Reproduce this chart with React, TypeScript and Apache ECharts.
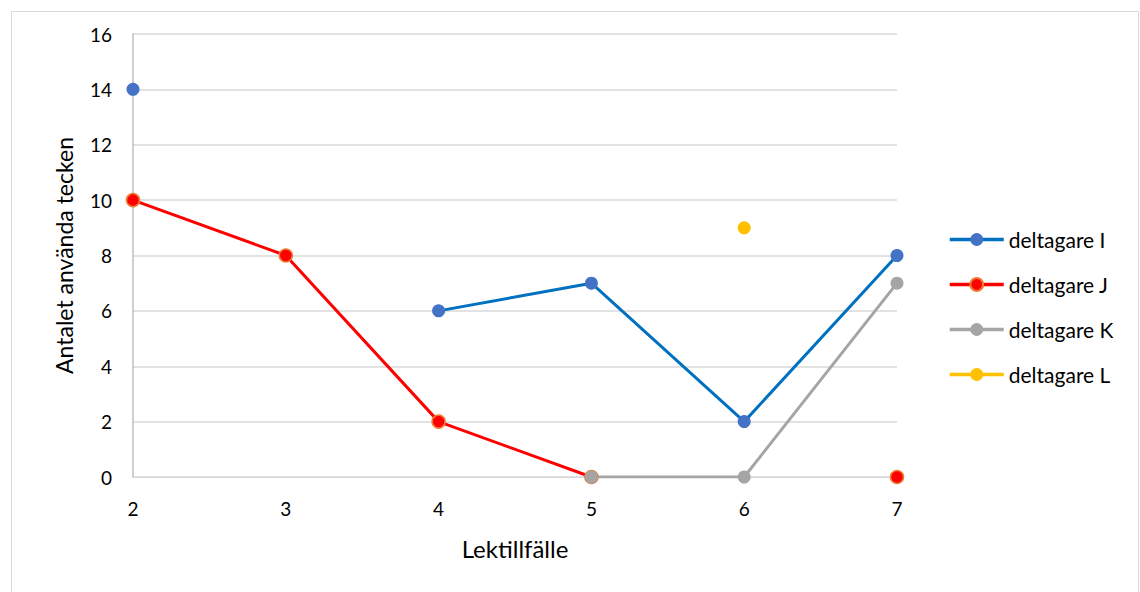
import React, { useEffect, useRef } from "react";
import * as echarts from "echarts";

const categories = ["2", "3", "4", "5", "6", "7"];
const seriesI = [14, null, 6, 7, 2, 8];
const seriesJ = [10, 8, 2, 0, null, 0];
const seriesK = [null, null, null, 0, 0, 7];
const seriesL = [null, null, null, null, 9, null];
const seriesNames = ["deltagare I", "deltagare J", "deltagare K", "deltagare L"];

const FONT = "Lato, 'Open Sans', sans-serif";

export default function App() {
  const ref = useRef<HTMLDivElement>(null);
  useEffect(() => {
    document.body.style.margin = "0";
    const chart = echarts.init(ref.current!, null, { renderer: "svg" });
    const mk = (name: string, data: any[], line: string, fill: string, border: string) => ({
      name,
      type: "line",
      data,
      symbol: "circle",
      symbolSize: 13,
      showSymbol: true,
      showAllSymbol: true,
      connectNulls: false,
      lineStyle: { color: line, width: 3 },
      itemStyle: { color: fill, borderColor: border, borderWidth: border === fill ? 0 : 1.5 },
      emphasis: { disabled: true },
    });
    chart.setOption({
      animation: false,
      textStyle: { fontFamily: FONT },
      graphic: [
        {
          type: "rect",
          shape: { x: 11.5, y: 11.5, width: 1127, height: 590 },
          style: { fill: "none", stroke: "#d9d9d9", lineWidth: 1 },
          silent: true,
        },
      ],
      grid: { left: 133, right: 243, top: 34, bottom: 115, containLabel: false },
      legend: {
        orient: "vertical",
        left: 943,
        top: 224,
        itemWidth: 54,
        itemHeight: 16,
        itemGap: 24,
        data: seriesNames,
        lineStyle: { width: 3.5 },
        textStyle: { fontSize: 21, color: "#000", fontFamily: FONT },
        selectedMode: false,
      },
      xAxis: {
        type: "category",
        data: categories,
        boundaryGap: false,
        name: "Lektillfälle",
        nameLocation: "middle",
        nameGap: 59,
        nameTextStyle: { fontSize: 24, color: "#000", fontFamily: FONT },
        axisLine: { show: true, lineStyle: { color: "#d9d9d9", width: 1 } },
        axisTick: { show: false },
        axisLabel: { fontSize: 19, color: "#000", margin: 22, fontFamily: FONT },
        splitLine: { show: false },
      },
      yAxis: {
        type: "value",
        min: 0,
        max: 16,
        interval: 2,
        name: "Antalet använda tecken",
        nameLocation: "middle",
        nameGap: 58,
        nameRotate: 90,
        nameTextStyle: { fontSize: 23, color: "#000", fontFamily: FONT },
        axisLine: { show: true, lineStyle: { color: "#bfbfbf", width: 1.5 } },
        axisTick: { show: false },
        axisLabel: { fontSize: 19, color: "#000", margin: 21, fontFamily: FONT },
        splitLine: { show: true, lineStyle: { color: "#d9d9d9", width: 1.5 } },
      },
      series: [
        mk(seriesNames[0], seriesI, "#0070C0", "#4472C4", "#4472C4"),
        mk(seriesNames[1], seriesJ, "#FF0000", "#FF0000", "#ED7D31"),
        mk(seriesNames[2], seriesK, "#A5A5A5", "#A5A5A5", "#A5A5A5"),
        mk(seriesNames[3], seriesL, "#FFC000", "#FFC000", "#FFC000"),
      ],
    });
    return () => chart.dispose();
  }, []);
  return <div ref={ref} style={{ width: 1140, height: 592 }} />;
}
